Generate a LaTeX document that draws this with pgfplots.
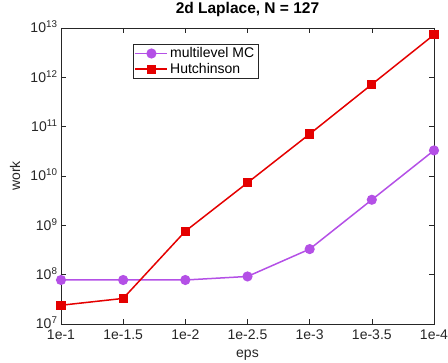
\documentclass[border=0pt]{standalone}
\usepackage{pgfplots}
\pgfplotsset{compat=1.18}
\usepackage{fontspec}
\setmainfont{Liberation Sans}
\definecolor{mlmc}{RGB}{180,80,230}
\definecolor{hutch}{RGB}{228,0,0}
\definecolor{axgray}{RGB}{38,38,38}
\begin{document}
\begin{tikzpicture}
\begin{axis}[
  name=ax,
  scale only axis,
  width=373pt, height=296pt,
  ymode=log, log basis y=10,
  xmin=0, xmax=6, ymin=1e7, ymax=1e13,
  xtick={0,1,2,3,4,5,6},
  xticklabels={1e-1,1e-1.5,1e-2,1e-2.5,1e-3,1e-3.5,1e-4},
  ytick={1e7,1e8,1e9,1e10,1e11,1e12,1e13},
  yticklabels={10\textsuperscript{7},10\textsuperscript{8},10\textsuperscript{9},10\textsuperscript{10},10\textsuperscript{11},10\textsuperscript{12},10\textsuperscript{13}},
  /pgf/number format/assume math mode=true,
  tick label style={font=\fontsize{14}{16}\selectfont, text=axgray},
  xticklabel style={yshift=-2.5pt},
  yticklabel style={yshift=1pt},
  label style={font=\fontsize{14}{16}\selectfont, text=axgray},
  xlabel={eps}, ylabel={work},
  xlabel style={at={(axis description cs:0.5,-0.105)}, anchor=center},
  ylabel style={at={(axis description cs:-0.123,0.5)}, anchor=center},
  title={\bfseries 2d Laplace, N = 127},
  title style={font=\fontsize{15.5}{18}\selectfont, at={(axis description cs:0.5,1)}, anchor=center, yshift=13pt},
  axis line style={axgray},
  every tick/.style={axgray},
  tick align=inside,
  major tick length=5pt, minor tick length=3pt,
  legend style={at={(0.193,0.946)}, anchor=north west, draw=axgray, font=\fontsize{14}{16}\selectfont, inner sep=1.5pt, row sep=0pt},
  legend cell align=left,
  legend image code/.code={\draw[mark repeat=2,mark phase=2] plot coordinates {(0pt,0pt) (16pt,0pt) (32pt,0pt)};},
]
\addplot[color=mlmc, line width=1.5pt, mark=*, mark size=4.3pt, mark options={fill=mlmc}] coordinates {
 (0,7.8e7) (1,7.8e7) (2,7.8e7) (3,9.2e7) (4,3.3e8) (5,3.3e9) (6,3.3e10)};
\addlegendentry{multilevel MC}
\addplot[color=hutch, line width=1.5pt, mark=square*, mark size=3.8pt, mark options={fill=hutch}] coordinates {
 (0,2.4e7) (1,3.3e7) (2,7.6e8) (3,7.3e9) (4,7.1e10) (5,7.2e11) (6,7.3e12)};
\addlegendentry{Hutchinson}
\end{axis}
\pgfresetboundingbox
\path (ax.south west) ++(-61pt,-38pt) rectangle ([shift={(14pt,28pt)}]ax.north east);
\end{tikzpicture}
\end{document}
